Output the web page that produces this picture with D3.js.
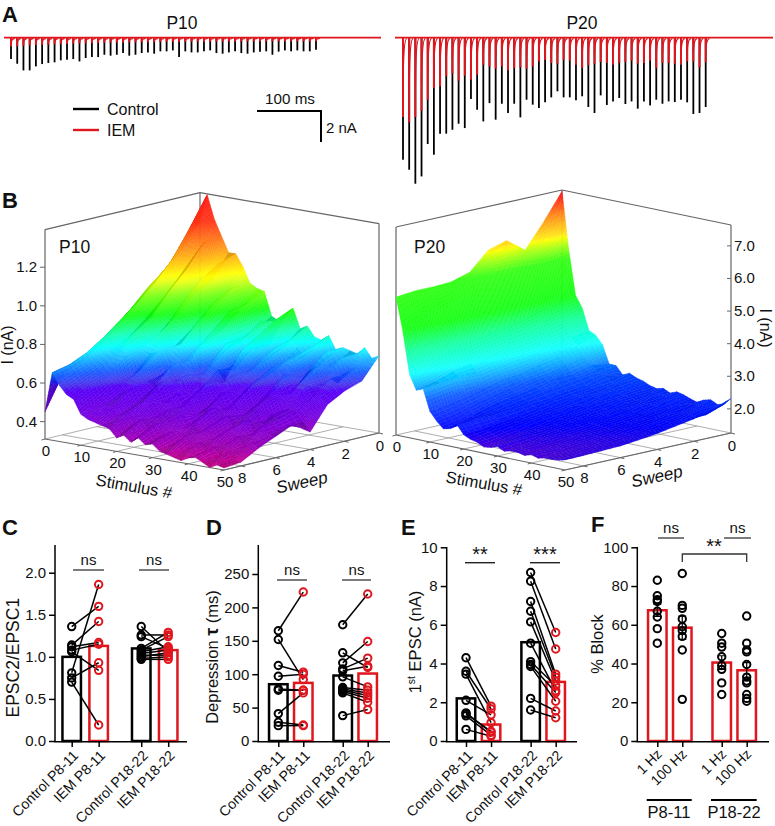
<!DOCTYPE html>
<html><head><meta charset="utf-8">
<script src="https://d3js.org/d3.v7.min.js"></script>
<style>
html,body{margin:0;padding:0;background:#fff}
svg{display:block}
text{font-family:"Liberation Sans",Arial,sans-serif;fill:#111}
</style></head><body>
<svg id="fig" width="775" height="826" viewBox="0 0 775 826"></svg>
<script>
// ---------- Panel A: peak EPSC amplitude (nA) per stimulus
const traceP10Control=[1.38,1.68,2.11,2.11,1.85,1.7,1.63,1.59,1.46,1.42,1.38,1.53,1.31,1.25,1.25,1.1,1.16,1.1,0.99,1.16,1.1,0.99,0.95,1.03,0.88,0.88,0.82,1.25,0.88,0.95,0.95,0.88,0.82,0.99,1.03,0.95,0.88,0.99,1.03,0.95,0.9,0.88,1.1,0.9,0.82,0.88,0.82,0.88,0.88,0.78];
const traceP10IEM=[.56,.55,.52,.5,.48,.46,.45,.43,.42,.4,.38,.37,.36,.35,.34,.33,.32,.32,.31,.3,.3,.29,.29,.28,.28,.27,.27,.27,.27,.26,.26,.26,.26,.25,.25,.25,.25,.25,.24,.24,.24,.24,.24,.24,.24,.24,.24,.24,.24,.23];
const traceP20Control=[7.87,8.52,9.42,8.95,6.86,7.55,6.19,6.19,5.94,5.55,5.83,3.96,4.65,5.4,4.22,5.29,4.26,4.86,4.26,5.14,4,4.32,4.54,4.17,3.85,3.46,3.85,3.85,4.04,3.78,4.47,4.86,3.72,4.34,4.11,3.89,4.28,4.11,4.58,4.11,4.37,4,4.26,4.11,4.15,4,4.17,4.92,4.86,4.47];
const traceP20IEM=[5.12,5.46,5.12,4.71,4,3.25,3.14,2.49,2.32,2.77,2.45,2.71,2.39,1.74,1.85,2,1.85,2.11,1.96,1.91,2,1.85,1.53,1.44,1.63,1.68,1.42,1.48,1.74,1.96,1.78,1.68,1.57,1.63,1.74,1.63,1.57,1.48,1.68,1.63,1.48,1.96,1.63,1.63,1.68,1.74,1.53,1.53,1.91,1.59];

// ---------- Panel B: amplitude (nA), rows = sweep 0..9, columns = stimulus 0,2,...,50
const surfaceStim=[0,2,4,6,8,10,12,14,16,18,20,22,24,26,28,30,32,34,36,38,40,42,44,46,48,50];
const surfaceSweep=[0,1,2,3,4,5,6,7,8,9];
const surfaceP10=[
[1.25,1.39,1.27,1.19,1.11,1.11,1.05,.97,.95,.94,.82,.80,.84,.88,.78,.80,.75,.74,.77,.70,.72,.71,.70,.74,.69,.71],
[1.13,1.24,1.12,1.18,.98,1.08,.92,.97,.87,.90,.76,.82,.70,.84,.70,.75,.72,.67,.73,.64,.72,.65,.70,.63,.66,.60],
[1.04,1.10,1.02,1.06,.94,1.02,.86,.92,.78,.88,.72,.76,.70,.78,.66,.72,.64,.68,.70,.60,.64,.67,.58,.62,.60,.57],
[.97,1.0,.92,.97,.85,.93,.78,.84,.74,.80,.68,.75,.62,.72,.62,.66,.60,.65,.57,.64,.55,.60,.60,.54,.55,.52],
[.88,.92,.84,.86,.78,.82,.72,.74,.66,.72,.60,.66,.64,.58,.62,.55,.56,.60,.50,.56,.55,.48,.50,.50,.45,.40],
[.79,.85,.76,.80,.72,.70,.71,.60,.66,.58,.62,.54,.55,.60,.50,.56,.48,.53,.46,.49,.51,.44,.49,.47,.44,.46],
[.72,.78,.72,.70,.70,.60,.64,.59,.56,.60,.50,.55,.49,.54,.46,.47,.51,.44,.48,.43,.45,.48,.41,.46,.42,.42],
[.66,.72,.67,.64,.61,.58,.54,.57,.50,.52,.52,.45,.49,.44,.48,.42,.45,.41,.45,.39,.43,.38,.42,.37,.40,.38],
[.62,.68,.64,.60,.59,.52,.50,.50,.46,.48,.43,.46,.41,.45,.39,.42,.37,.41,.36,.39,.35,.38,.34,.37,.33,.33],
[.45,.66,.60,.56,.54,.47,.45,.44,.43,.42,.38,.40,.37,.40,.37,.38,.35,.34,.33,.32,.34,.35,.33,.31,.33,.32]];
const surfaceP20=[
[7.6,5.85,4.5,4.15,3.5,3.4,3.15,2.6,2.6,2.35,2.45,2.35,2.3,2.2,2.15,2.2,2.1,2.18,2.13,2.05,1.99,2.1,2.15,2.05,2.1,2.32],
[6.78,5.75,4.4,3.9,3.4,3.2,2.9,2.7,2.5,2.45,2.3,2.3,2.2,2.15,2.1,2.05,2.1,2.0,2.05,1.95,2.0,1.9,1.95,2.0,1.9,2.1],
[6.05,5.75,4.3,3.7,3.3,3.0,2.8,2.55,2.45,2.3,2.25,2.15,2.2,2.05,2.05,2.0,1.95,2.0,1.9,1.92,1.85,1.9,1.85,1.85,1.88,1.95],
[6.47,5.8,4.1,3.6,3.15,2.9,2.65,2.55,2.35,2.25,2.15,2.15,2.0,2.05,1.95,1.9,1.95,1.85,1.85,1.8,1.82,1.78,1.8,1.75,1.78,1.85],
[6.3,5.8,4.0,3.5,3.1,2.75,2.6,2.4,2.3,2.15,2.1,2.0,2.0,1.9,1.9,1.85,1.82,1.8,1.78,1.75,1.72,1.75,1.7,1.7,1.72,1.75],
[5.75,5.4,3.9,3.35,3.0,2.7,2.45,2.3,2.2,2.1,2.0,1.95,1.9,1.85,1.8,1.8,1.75,1.72,1.7,1.68,1.7,1.65,1.65,1.62,1.65,1.68],
[5.58,5.1,3.8,3.2,2.9,2.55,2.35,2.2,2.1,2.05,1.9,1.85,1.85,1.75,1.72,1.7,1.7,1.65,1.62,1.65,1.6,1.6,1.58,1.6,1.6,1.62],
[5.55,4.9,3.6,3.1,2.95,2.4,2.2,2.05,2.0,2.0,1.82,1.78,1.72,1.65,1.68,1.65,1.6,1.62,1.58,1.55,1.56,1.52,1.56,1.55,1.55,1.6],
[5.55,4.7,3.4,2.9,2.9,2.3,2.05,1.85,1.9,1.98,1.75,1.7,1.62,1.55,1.58,1.6,1.52,1.55,1.52,1.5,1.52,1.48,1.5,1.52,1.52,1.58],
[5.49,4.5,3.2,2.76,2.85,2.2,1.95,1.75,1.8,1.96,1.7,1.6,1.55,1.45,1.48,1.55,1.45,1.5,1.5,1.45,1.52,1.45,1.5,1.5,1.52,1.57]];
const rainbowP10Values=[.31,.38,.47,.57,.64,.72,.78,.86,.94,1.0,1.13,1.26,1.40];
const rainbowP20Values=[1.26,1.5,1.75,2.5,3.2,3.9,4.5,5.6,5.95,6.3,6.9,7.4,7.64];
const rainbowP10Colors=["#c0007a","#9000a8","#6a00cc","#5000e0","#0050ff","#00e8ff","#00ffb0","#00ff00","#70ff00","#e8ff00","#ff9000","#ff2000","#ff0000"];
const rainbowP20Colors=["#8000c0","#4000e0","#0000ff","#0050ff","#00ffff","#00ff90","#00ff00","#20ff00","#90ff00","#ffe800","#ff8000","#ff1000","#ff0000"];

// ---------- Panels C-F
const groupLabels=["Control P8-11","IEM P8-11","Control P18-22","IEM P18-22"];
const blockLabels=["1 Hz","100 Hz","1 Hz","100 Hz"];
const groupPos=[0,1,2.58,3.58];
const ratioMeans=[1.0,1.13,1.1,1.08];
const ratioCtlYoung=[1.36,1.14,1.12,1.08,1.06,0.81,0.75,0.70];
const ratioIemYoung=[1.60,1.42,1.17,1.15,0.84,1.86,0.93,0.19];
const ratioCtlOld=[1.36,1.26,1.24,1.10,1.08,1.06,1.04,1.02,1.00,0.98,0.97];
const ratioIemOld=[1.06,1.26,1.10,1.29,1.24,1.12,1.08,1.02,1.05,1.00,0.97];
const tauMeans=[85,87,98,101];
const tauCtlYoung=[165,152,113,97,78,76,41,28,23];
const tauIemYoung=[223,92,103,100,76,76,72,24,23];
const tauCtlOld=[174,132,117,108,105,96,80,78,76,74,72,38];
const tauIemOld=[220,110,149,124,112,81,76,72,68,64,58,47];
const firstMeans=[2.2,0.85,5.1,3.05];
const firstCtlYoung=[4.3,3.6,3.45,2.1,1.45,1.4,1.3,0.6];
const firstIemYoung=[1.8,1.65,0.95,1.35,0.45,0.5,0.3,0.25];
const firstCtlOld=[8.7,8.25,7.2,6.7,6.15,5.05,4.1,3.95,3.85,2.2,1.6];
const firstIemOld=[5.6,4.75,3.45,3.3,3.1,2.6,2.85,2.5,2.05,1.55,1.2];
const blockMeans=[67.5,58.5,40.5,36.5];
const blockSem=[3.2,6,3.5,4];
const block1HzYoung=[83,75,73,72,67,64,58,50.5];
const block100HzYoung=[86.5,70,68.5,63,59,57,54,47,21.5];
const block1HzOld=[55.5,50.5,48.5,43.5,39,37,30,24];
const block100HzOld=[64.5,50.5,47,46,39.5,33,31,30,24,22,20.5];

const BLACK="#000",RED="#e0161e",GREY="#777";
const svg=d3.select("#fig");
function txt(x,y,s,size,o={}){
  const t=svg.append("text").attr("x",x).attr("y",y).attr("font-size",size).text(s);
  if(o.anchor)t.attr("text-anchor",o.anchor);
  if(o.weight)t.attr("font-weight",o.weight);
  if(o.style)t.attr("font-style",o.style);
  if(o.rotate!==undefined)t.attr("transform",`rotate(${o.rotate} ${x} ${y})`);
  return t;
}
[["A",2,22],["B",2,208],["C",2,535],["D",206,535],["E",401,535],["F",591,532]].forEach(d=>txt(d[1],d[2],d[0],22,{weight:"bold"}));

// ---------- Panel A
function traces(ctrl,iem,x0,x1,b0,b1){
  const x=d3.scaleLinear().domain([0,49]).range([x0,x1]);
  const y=d3.scaleLinear().domain([0,1]).range([37.7,53.2]);
  const g=svg.append("g").attr("fill","none");
  const spike=(d,i)=>`M${x(i)},${y(0)}L${x(i)},${y(d)}`;
  g.selectAll(".c").data(ctrl).join("path").attr("d",spike).attr("stroke",BLACK).attr("stroke-width",1.8);
  g.selectAll(".r").data(iem).join("path").attr("d",spike).attr("stroke",RED).attr("stroke-width",2);
  g.selectAll(".t").data(iem).join("path").attr("d",(d,i)=>`M${x(i)},${y(d*0.6)}Q${x(i)+0.4},${y(0.08)} ${x(i)+3.8},${y(0.04)}`).attr("stroke",RED).attr("stroke-width",1.4);
  g.append("path").attr("d",`M${b0},37.7H${b1}`).attr("stroke",RED).attr("stroke-width",1.8);
}
traces(traceP10Control,traceP10IEM,11,316,4,381);
traces(traceP20Control,traceP20IEM,403,705.7,395,773);
txt(182,29,"P10",17.5,{anchor:"middle"});
txt(582,29,"P20",17.5,{anchor:"middle"});
svg.append("path").attr("d","M73,109H99").attr("stroke",BLACK).attr("stroke-width",2.4);
svg.append("path").attr("d","M73,130H99").attr("stroke",RED).attr("stroke-width",2.4);
txt(107,115,"Control",16);txt(107,136,"IEM",16);
svg.append("path").attr("d","M257,111H321V142").attr("fill","none").attr("stroke",BLACK).attr("stroke-width",2);
txt(290,104,"100 ms",15.2,{anchor:"middle"});
txt(326,133,"2 nA",15);

// ---------- Panel B
function surfacePanel(cfg){
  const {Z,stops,colors,back,right,left,zFloor,zTop,zPx}=cfg;
  const sx=d3.scaleLinear().domain([0,50]).range([0,1]);
  const sw=d3.scaleLinear().domain([0,9]).range([0,1]);
  const zs=d3.scaleLinear().domain([zFloor,zTop]).range([0,(zTop-zFloor)*zPx]);
  const px=(st,s)=>back[0]+(right[0]-back[0])*sx(st)+(left[0]-back[0])*sw(s);
  const py=(st,s,z)=>back[1]+(right[1]-back[1])*sx(st)+(left[1]-back[1])*sw(s)-zs(z===undefined?zFloor:z);
  const color=d3.scaleLinear().domain(stops).range(colors).interpolate(d3.interpolateRgb).clamp(true);
  const g=svg.append("g");
  const line=(a,b,c=GREY,w=0.9)=>g.append("path").attr("d",`M${a[0]},${a[1]}L${b[0]},${b[1]}`).attr("stroke",c).attr("stroke-width",w).attr("fill","none");
  const P=(st,s,z)=>[px(st,s),py(st,s,z)];
  line(P(0,9),P(0,9,zTop),"#666",1.2);
  line(P(50,0),P(50,0,zTop),"#666",1.2);
  line(P(0,0),P(0,0,zTop),"#666",1.2);
  line(P(0,9,zTop),P(0,0,zTop),"#666",1.2);
  line(P(50,0,zTop),P(0,0,zTop),"#666",1.2);
  d3.range(0,51,10).forEach(st=>line(P(st,0),P(st,9),"#999",.8));
  d3.range(0,9,2).forEach(s=>line(P(0,s),P(50,s),"#999",.8));
  line(P(0,9),P(50,9),"#666",1.1);line(P(50,0),P(50,9),"#666",1.1);
  d3.range(0,51,10).forEach(st=>{
    line(P(st,9),[px(st,9)-3.5,py(st,9)+1],"#666",1);
    txt(px(st,9)+1,py(st,9)+17,st,15,{anchor:"middle"});
  });
  d3.range(0,9,2).forEach(s=>{
    line(P(50,s),[px(50,s)+4,py(50,s)+1],"#666",1);
    txt(px(50,s)+1,py(50,s)+17.5,s,15,{anchor:"middle"});
  });
  const S=surfaceStim,W=surfaceSweep;
  const sg=g.append("g");
  for(let i=0;i<W.length-1;i++){
    for(let j=0;j<S.length-1;j++){
      const z00=Z[i][j],z01=Z[i][j+1],z10=Z[i+1][j],z11=Z[i+1][j+1];
      const rng=(Math.max(z00,z01,z10,z11)-Math.min(z00,z01,z10,z11))*zPx;
      const n=Math.max(2,Math.min(16,Math.ceil(rng/4)));
      const slope=((z01-z00+z11-z10)/2)*zPx/7.2+((z10-z00+z11-z01)/2)*zPx/17;
      const shade=1-Math.max(-.1,Math.min(.12,(slope+cfg.slopeMean)*cfg.slopeGain));
      for(let a=0;a<n;a++)for(let b=0;b<n;b++){
        const u0=a/n,u1=(a+1)/n,v0=b/n,v1=(b+1)/n;
        const bl=(u,v)=>z00*(1-u)*(1-v)+z01*u*(1-v)+z10*(1-u)*v+z11*u*v;
        const st=u=>S[j]+(S[j+1]-S[j])*u, sw_=v=>W[i]+(W[i+1]-W[i])*v;
        const pt=(u,v)=>[px(st(u),sw_(v)),py(st(u),sw_(v),bl(u,v))];
        const c=d3.hsl(color(bl((u0+u1)/2,(v0+v1)/2)));
        c.l*=shade;
        const f=c.formatRgb();
        sg.append("path").attr("d","M"+[pt(u0,v0),pt(u1,v0),pt(u1,v1),pt(u0,v1)].map(p=>p[0].toFixed(2)+","+p[1].toFixed(2)).join("L")+"Z")
          .attr("fill",f).attr("stroke",f).attr("stroke-width",.4);
      }
    }
  }
}
surfacePanel({Z:surfaceP10,stops:rainbowP10Values,colors:rainbowP10Colors,back:[200,402],right:[379,433],left:[45,439],zFloor:.31,zTop:1.395,zPx:193,slopeMean:0.35,slopeGain:.25});
surfacePanel({Z:surfaceP20,stops:rainbowP20Values,colors:rainbowP20Colors,back:[562,398],right:[731,433],left:[396,435],zFloor:1.26,zTop:7.64,zPx:32.6,slopeMean:0.5,slopeGain:.1});
const zTicksP10=[.4,.6,.8,1,1.2],zTicksP20=[2,3,4,5,6,7];
zTicksP10.forEach(v=>{const y=439-(v-.31)*193;svg.append("path").attr("d",`M40,${y}H45`).attr("stroke","#666");txt(37,y+5,v.toFixed(1),15,{anchor:"end"});});
zTicksP20.forEach(v=>{const y=433-(v-1.26)*32.6;svg.append("path").attr("d",`M731,${y}H727`).attr("stroke","#666");txt(734,y+5,v.toFixed(1),15);});
txt(59,253,"P10",17.5);txt(414,253,"P20",17.5);
txt(13,345,"I (nA)",16,{anchor:"middle",rotate:-90});
txt(760,328,"I (nA)",16,{anchor:"middle",rotate:90});
txt(133,492,"Stimulus #",16.5,{anchor:"middle",rotate:10});
txt(483,489,"Stimulus #",16.5,{anchor:"middle",rotate:10});
txt(303,488,"Sweep",17,{anchor:"middle",rotate:-12,style:"italic"});
txt(658,482,"Sweep",17,{anchor:"middle",rotate:-12,style:"italic"});

// ---------- Panels C-F
function barPanel(c){
  const x=d3.scaleLinear().domain([0,3.58]).range(c.xr);
  const y=d3.scaleLinear().domain([0,c.yMax]).range([741,c.yMaxPx]);
  const g=svg.append("g");
  const bw=18.5;
  g.selectAll("rect").data(c.means).join("rect")
    .attr("x",(d,i)=>x(groupPos[i])-bw/2).attr("width",bw)
    .attr("y",d=>y(d)).attr("height",d=>741-y(d))
    .attr("fill","none").attr("stroke",(d,i)=>c.barColors[i]).attr("stroke-width",2.5);
  if(c.sem)c.sem.forEach((e,i)=>{
    const X=x(groupPos[i]);
    g.append("path").attr("d",`M${X-4},${y(c.means[i]+e)}H${X+4}M${X},${y(c.means[i]+e)}V${y(c.means[i]-e)}M${X-4},${y(c.means[i]-e)}H${X+4}`)
      .attr("fill","none").attr("stroke","#000").attr("stroke-width",1.2);
  });
  (c.pairs||[]).forEach(p=>{
    p.a.forEach((v,k)=>g.append("line").attr("x1",x(p.ia)).attr("x2",x(p.ib)).attr("y1",y(v)).attr("y2",y(p.b[k])).attr("stroke","#000").attr("stroke-width",1.5));
  });
  c.points.forEach(p=>{
    g.selectAll(null).data(p.v).join("circle").attr("cx",x(p.i)).attr("cy",d=>y(d)).attr("r",3.7)
      .attr("fill","none").attr("stroke",p.color).attr("stroke-width",2);
  });
  const ay=d3.axisLeft(y).tickValues(c.ticks).tickSize(6).tickFormat(c.fmt);
  const gy=svg.append("g").attr("transform",`translate(${c.axisX},0)`).call(ay);
  gy.select(".domain").remove();
  gy.selectAll("line").attr("stroke","#000").attr("stroke-width",1.5);
  gy.selectAll("text").attr("font-size",15).attr("fill","#111").attr("font-family",'"Liberation Sans"');
  const ax=d3.axisBottom(x).tickValues(groupPos).tickSize(6).tickFormat((d,i)=>c.labels[i]);
  const gx=svg.append("g").attr("transform","translate(0,741)").call(ax);
  gx.select(".domain").remove();
  gx.selectAll("line").attr("stroke","#000").attr("stroke-width",1.5);
  gx.selectAll("text").attr("font-size",c.labelSize).attr("fill","#111").attr("font-family",'"Liberation Sans"')
    .attr("x",0).attr("y",0).attr("dy",0).attr("text-anchor","end").attr("transform",`translate(${c.lx},${c.ly}) rotate(-45)`);
  svg.append("path").attr("d",`M${c.axisX},${c.axisTop}V741.7H${c.axisEnd}`).attr("fill","none").attr("stroke","#000").attr("stroke-width",1.5);
}
const FMT1=d3.format(".1f"),FMT0=d3.format("d");
barPanel({xr:[71.7,168.2],yMax:2,yMaxPx:572.7,axisX:55,axisTop:545,axisEnd:187,means:ratioMeans,barColors:[BLACK,RED,BLACK,RED],ticks:[0,.5,1,1.5,2],fmt:FMT1,labels:groupLabels,labelSize:14.2,lx:7,ly:15.5,
  pairs:[{ia:0,ib:1,a:ratioCtlYoung,b:ratioIemYoung},{ia:2.58,ib:3.58,a:ratioCtlOld,b:ratioIemOld}],
  points:[{i:0,v:ratioCtlYoung,color:BLACK},{i:1,v:ratioIemYoung,color:RED},{i:2.58,v:ratioCtlOld,color:BLACK},{i:3.58,v:ratioIemOld,color:RED}]});
barPanel({xr:[278.3,367.7],yMax:250,yMaxPx:574,axisX:258.3,axisTop:545,axisEnd:390,means:tauMeans,barColors:[BLACK,RED,BLACK,RED],ticks:[0,50,100,150,200,250],fmt:FMT0,labels:groupLabels,labelSize:14.2,lx:7,ly:15.5,
  pairs:[{ia:0,ib:1,a:tauCtlYoung,b:tauIemYoung},{ia:2.58,ib:3.58,a:tauCtlOld,b:tauIemOld}],
  points:[{i:0,v:tauCtlYoung,color:BLACK},{i:1,v:tauIemYoung,color:RED},{i:2.58,v:tauCtlOld,color:BLACK},{i:3.58,v:tauIemOld,color:RED}]});
barPanel({xr:[466,555.7],yMax:10,yMaxPx:547.3,axisX:446.7,axisTop:547,axisEnd:577,means:firstMeans,barColors:[BLACK,RED,BLACK,RED],ticks:[0,2,4,6,8,10],fmt:FMT0,labels:groupLabels,labelSize:14.2,lx:7,ly:15.5,
  pairs:[{ia:0,ib:1,a:firstCtlYoung,b:firstIemYoung},{ia:2.58,ib:3.58,a:firstCtlOld,b:firstIemOld}],
  points:[{i:0,v:firstCtlYoung,color:BLACK},{i:1,v:firstIemYoung,color:RED},{i:2.58,v:firstCtlOld,color:BLACK},{i:3.58,v:firstIemOld,color:RED}]});
barPanel({xr:[657.3,746.7],yMax:100,yMaxPx:547.3,axisX:637.3,axisTop:547,axisEnd:769,means:blockMeans,sem:blockSem,barColors:[RED,RED,RED,RED],ticks:[0,20,40,60,80,100],fmt:FMT0,labels:blockLabels,labelSize:14,lx:5,ly:14,
  points:[{i:0,v:block1HzYoung,color:BLACK},{i:1,v:block100HzYoung,color:BLACK},{i:2.58,v:block1HzOld,color:BLACK},{i:3.58,v:block100HzOld,color:BLACK}]});

txt(19,657.7,"EPSC2/EPSC1",17.5,{anchor:"middle",rotate:-90});
const dT=txt(218,657,"",16.5,{anchor:"middle",rotate:-90});
dT.append("tspan").text("Depression ");dT.append("tspan").attr("font-weight","bold").attr("font-size",18).text("τ");dT.append("tspan").text(" (ms)");
const eT=txt(421,642,"",16.5,{anchor:"middle",rotate:-90});
eT.append("tspan").text("1");eT.append("tspan").attr("font-size",10.5).attr("dy",-6).text("st");eT.append("tspan").attr("dy",6).text(" EPSC (nA)");
txt(603,644,"% Block",16.5,{anchor:"middle",rotate:-90});

function sig(x0,x1,y,label,ty,size,color="#444"){
  svg.append("path").attr("d",`M${x0},${y}H${x1}`).attr("stroke",color).attr("stroke-width",1.4);
  txt((x0+x1)/2,ty,label,size,{anchor:"middle"});
}
sig(73,104,570,"ns",565,15);sig(139,169,570,"ns",565,15);
sig(277,307,580,"ns",575,15);sig(342,371,580,"ns",575,15);
sig(465,495,562.7,"**",561,20,"#222");sig(530,560,562.7,"***",561,20,"#222");
sig(658,684,538,"ns",533,15);sig(724,751,538,"ns",533,15);
svg.append("path").attr("d","M682.3,562V554H746.7V562").attr("fill","none").attr("stroke","#333").attr("stroke-width",1.3);
txt(714,553,"**",20,{anchor:"middle"});
svg.append("path").attr("d","M646.7,800H691.7M711,800H756.7").attr("stroke","#000").attr("stroke-width",2);
txt(669,818,"P8-11",16.5,{anchor:"middle"});
txt(734,818,"P18-22",16.5,{anchor:"middle"});
</script></body></html>
